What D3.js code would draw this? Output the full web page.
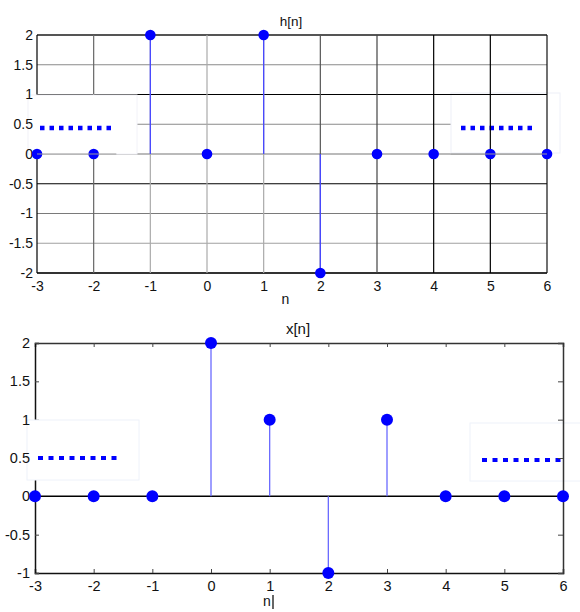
<!DOCTYPE html>
<html><head><meta charset="utf-8">
<script src="https://cdn.jsdelivr.net/npm/d3@7"></script>
<style>body{margin:0;background:#fff}svg{display:block}</style>
</head><body>
<svg id="c" width="580" height="612"></svg>
<script>
// ---- data ----
const nValues = [-3,-2,-1,0,1,2,3,4,5,6];
const hValues = [0,0,2,0,2,-2,0,0,0,0];
const xValues = [0,0,0,2,1,-1,1,0,0,0];
const yTicksH = [-2,-1.5,-1,-0.5,0,0.5,1,1.5,2];
const yTicksX = [-1,-0.5,0,0.5,1,1.5,2];
const titles = ["h[n]","x[n]"];
const xLabel = "n";

const svg = d3.select("#c");
const font = "'Liberation Sans', Arial, sans-serif";
const fmt = d => String(d);

// ---------- TOP CHART: h[n] ----------
const xs1 = d3.scaleLinear().domain([-3,6]).range([37,547]);
const ys1 = d3.scaleLinear().domain([-2,2]).range([273,35]);
const g1 = svg.append("g");

const hGridColor = {"2":"#555","1.5":"#8a8a8a","1":"#000","0.5":"#8a8a8a","0":"#777","-0.5":"#000","-1":"#7a7a7a","-1.5":"#a0a0a0","-2":"#333"};
const vGridColor = {"-3":"#000","-2":"#666","-1":"#aaa","0":"#aaa","1":"#aaa","2":"#555","3":"#444","4":"#000","5":"#000","6":"#111"};

function hLine(v){
  g1.append("line").attr("x1",xs1(-3)).attr("x2",xs1(6)).attr("y1",ys1(v)).attr("y2",ys1(v))
    .attr("stroke",hGridColor[String(v)]).attr("stroke-width",(v===2||v===-2)?2:1.2);
}
function vLine(v){
  g1.append("line").attr("x1",xs1(v)).attr("x2",xs1(v)).attr("y1",ys1(2)).attr("y2",ys1(-2))
    .attr("stroke",vGridColor[String(v)]).attr("stroke-width",1.2);
}
yTicksH.filter(v=>v!==1).forEach(hLine);
// right legend box (behind verticals)
g1.append("rect").attr("x",451).attr("y",93).attr("width",109).attr("height",60)
  .attr("fill","#fff").attr("stroke","#eef0f8");
g1.append("line").attr("x1",461).attr("x2",537).attr("y1",128).attr("y2",128)
  .attr("stroke","#0000ff").attr("stroke-width",4.5).attr("stroke-dasharray","4.5,5");
hLine(1);
nValues.forEach(vLine);
// left legend box (covers grid)
g1.append("rect").attr("x",28).attr("y",95).attr("width",109).attr("height",59)
  .attr("fill","#fff").attr("stroke","#f2f2f8");
g1.append("line").attr("x1",40).attr("x2",116).attr("y1",128).attr("y2",128)
  .attr("stroke","#0000ff").attr("stroke-width",4.5).attr("stroke-dasharray","4.5,5");

// axes tick labels via d3 axes
const ax1 = g1.append("g").attr("transform","translate(0,273)")
  .call(d3.axisBottom(xs1).tickValues(nValues).tickSize(0).tickPadding(8).tickFormat(fmt));
const ay1 = g1.append("g").attr("transform","translate(37,0)")
  .call(d3.axisLeft(ys1).tickValues(yTicksH).tickSize(0).tickPadding(4).tickFormat(fmt));
[ax1,ay1].forEach(a=>{a.select(".domain").remove();a.selectAll("text").attr("font-family",font).attr("font-size",14).attr("fill","#111");});

// stems + dots
const stems1 = g1.append("g");
nValues.forEach((n,i)=>{
  if(hValues[i]!==0) stems1.append("line").attr("x1",xs1(n)).attr("x2",xs1(n))
    .attr("y1",ys1(0)).attr("y2",ys1(hValues[i])).attr("stroke","#4848ff").attr("stroke-width",1.3);
});
g1.append("g").selectAll("circle").data(nValues).join("circle")
  .attr("cx",d=>xs1(d)).attr("cy",(d,i)=>ys1(hValues[i])).attr("r",5.3).attr("fill","#0000ff");
// zero grid line showing over the outer dots
[[-3,-1.6],[4.3,6]].forEach(r=>{
  g1.append("line").attr("x1",xs1(r[0])).attr("x2",xs1(r[1])).attr("y1",ys1(0)).attr("y2",ys1(0))
    .attr("stroke","#9a9a9a").attr("stroke-width",1);
});

g1.append("text").attr("x",291).attr("y",26).attr("text-anchor","middle").attr("font-family",font)
  .attr("font-size",13.5).attr("fill","#111").text(titles[0]);
g1.append("text").attr("x",285.5).attr("y",304).attr("text-anchor","middle").attr("font-family",font)
  .attr("font-size",14).attr("fill","#111").text(xLabel);

// ---------- BOTTOM CHART: x[n] ----------
const xs2 = d3.scaleLinear().domain([-3,6]).range([35,563]);
const ys2 = d3.scaleLinear().domain([-1,2]).range([573,343]);
const g2 = svg.append("g");

// right legend box (behind axes)
g2.append("rect").attr("x",470).attr("y",423).attr("width",115).attr("height",58)
  .attr("fill","#fff").attr("stroke","#eef2fa");
g2.append("line").attr("x1",482).attr("x2",566).attr("y1",460).attr("y2",460)
  .attr("stroke","#0000ff").attr("stroke-width",4).attr("stroke-dasharray","5,5.5");

// frame with inward ticks
g2.append("g").attr("transform","translate(0,343)")
  .call(d3.axisBottom(xs2).tickValues(nValues).tickSize(4).tickFormat(""))
  .call(a=>a.select(".domain").attr("stroke","#333").attr("stroke-width",1.5));
const ax2 = g2.append("g").attr("transform","translate(0,573)")
  .call(d3.axisTop(xs2).tickValues(nValues).tickSize(4).tickFormat(""));
ax2.select(".domain").attr("stroke","#111").attr("stroke-width",1.5);
g2.append("g").attr("transform","translate(563,0)")
  .call(d3.axisLeft(ys2).tickValues(yTicksX).tickSize(5).tickFormat(""))
  .call(a=>a.select(".domain").attr("stroke","#333").attr("stroke-width",1.5));
const ayL = g2.append("g").attr("transform","translate(35,0)")
  .call(d3.axisRight(ys2).tickValues(yTicksX).tickSize(4).tickFormat(""));
ayL.select(".domain").attr("stroke","#111").attr("stroke-width",1.5);
g2.selectAll(".tick line").attr("stroke","#444");

// zero line
g2.append("line").attr("x1",xs2(-3)).attr("x2",xs2(6)).attr("y1",ys2(0)).attr("y2",ys2(0))
  .attr("stroke","#000").attr("stroke-width",1.5);

// left legend box (covers axis)
g2.append("rect").attr("x",27).attr("y",420).attr("width",112).attr("height",60)
  .attr("fill","#fff").attr("stroke","#eef2fa");
g2.append("line").attr("x1",38).attr("x2",122).attr("y1",458).attr("y2",458)
  .attr("stroke","#0000ff").attr("stroke-width",4).attr("stroke-dasharray","5,5.5");

// tick labels
const lx2 = g2.append("g").attr("transform","translate(0,573)")
  .call(d3.axisBottom(xs2).tickValues(nValues).tickSize(0).tickPadding(8).tickFormat(fmt));
const ly2 = g2.append("g").attr("transform","translate(35,0)")
  .call(d3.axisLeft(ys2).tickValues(yTicksX).tickSize(0).tickPadding(5).tickFormat(fmt));
[lx2,ly2].forEach(a=>{a.select(".domain").remove();a.selectAll("text").attr("font-family",font).attr("font-size",14.5).attr("fill","#111");});

// stems + dots
nValues.forEach((n,i)=>{
  if(xValues[i]!==0) g2.append("line").attr("x1",xs2(n)).attr("x2",xs2(n))
    .attr("y1",ys2(0)).attr("y2",ys2(xValues[i])).attr("stroke","#6a6aff").attr("stroke-width",1.3);
});
g2.append("g").selectAll("circle").data(nValues).join("circle")
  .attr("cx",d=>xs2(d)).attr("cy",(d,i)=>ys2(xValues[i])).attr("r",6).attr("fill","#0000ff");

g2.append("text").attr("x",298).attr("y",334).attr("text-anchor","middle").attr("font-family",font)
  .attr("font-size",15).attr("fill","#111").text(titles[1]);
g2.append("text").attr("x",267).attr("y",606).attr("text-anchor","middle").attr("font-family",font)
  .attr("font-size",14).attr("fill","#111").text(xLabel);
g2.append("line").attr("x1",273).attr("x2",273).attr("y1",595).attr("y2",609).attr("stroke","#000").attr("stroke-width",1.2);
</script>
</body></html>
